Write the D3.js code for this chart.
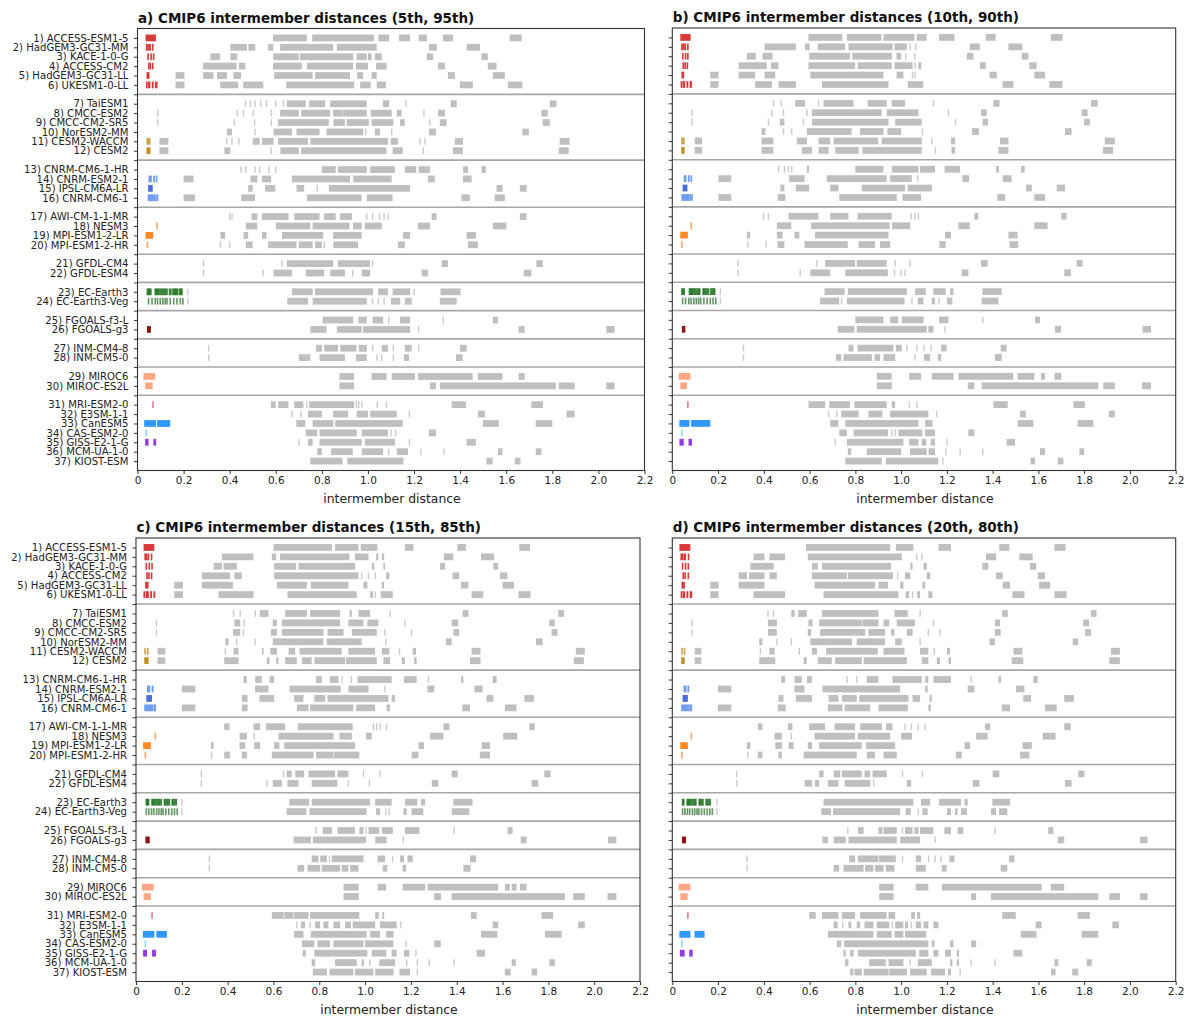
<!DOCTYPE html>
<html>
<head>
<meta charset="utf-8">
<script src="https://cdn.jsdelivr.net/npm/d3@7"></script>
<style>
  body { margin: 0; background: #fff; }
  text { font-family: "DejaVu Sans", sans-serif; fill: #222; }
</style>
</head>
<body>
<svg id="chart" width="1200" height="1019"></svg>
<script>
// ---------------------
// Data
// ---------------------

var models = ["1) ACCESS-ESM1-5","2) HadGEM3-GC31-MM","3) KACE-1-0-G","4) ACCESS-CM2","5) HadGEM3-GC31-LL","6) UKESM1-0-LL",
  "7) TaiESM1","8) CMCC-ESM2","9) CMCC-CM2-SR5","10) NorESM2-MM","11) CESM2-WACCM","12) CESM2",
  "13) CNRM-CM6-1-HR","14) CNRM-ESM2-1","15) IPSL-CM6A-LR","16) CNRM-CM6-1",
  "17) AWI-CM-1-1-MR","18) NESM3","19) MPI-ESM1-2-LR","20) MPI-ESM1-2-HR",
  "21) GFDL-CM4","22) GFDL-ESM4","23) EC-Earth3","24) EC-Earth3-Veg","25) FGOALS-f3-L","26) FGOALS-g3",
  "27) INM-CM4-8","28) INM-CM5-0","29) MIROC6","30) MIROC-ES2L",
  "31) MRI-ESM2-0","32) E3SM-1-1","33) CanESM5","34) CAS-ESM2-0","35) GISS-E2-1-G","36) MCM-UA-1-0","37) KIOST-ESM"];

var groupSizes = [6, 6, 4, 4, 2, 2, 2, 2, 2, 7];

var memberColors = ["#d62728","#d62728","#d62728","#d62728","#d62728","#d62728",
  null,null,null,null,"#c79a35","#b8860b",
  null,"#6495ed","#3a5fd8","#6495ed",
  null,"#f0a060","#ff7f0e","#f0a060",
  null,null,"#0b640b","#3d7a3d",null,"#800000",
  null,null,"#ffa07a","#ffa07a",
  "#db7093",null,"#1e90ff","#86d3e6","#8a2be2",null,null];

var titles = ["a) CMIP6 intermember distances (5th, 95th)",
  "b) CMIP6 intermember distances (10th, 90th)",
  "c) CMIP6 intermember distances (15th, 85th)",
  "d) CMIP6 intermember distances (20th, 80th)"];

var xTicks = [0, 0.2, 0.4, 0.6, 0.8, 1.0, 1.2, 1.4, 1.6, 1.8, 2.0, 2.2];
var xTickLabels = ["0","0.2","0.4","0.6","0.8","1.0","1.2","1.4","1.6","1.8","2.0","2.2"];

// intermember distances (coloured), "a-b" = dense range, "a" = single tick
var memberA = ["0.035-0.08","0.04 0.046 0.05-0.058 0.066","0.046 0.059 0.07","0.049 0.056 0.066","0.039-0.052","0.04 0.045-0.056 0.062-0.07 0.076-0.087",
  "","","","","0.039-0.056","0.039-0.056",
  "","0.048-0.062 0.068-0.076 0.083","0.046-0.066","0.044-0.076 0.08 0.087",
  "","0.085","0.035-0.068","0.043",
  "","","0.043 0.048 0.053 0.058 0.077 0.082 0.087 0.092 0.098 0.104 0.11 0.116 0.122 0.128 0.139 0.145 0.154 0.159 0.164 0.169 0.174 0.183 0.188 0.193",
  "0.048 0.063 0.077 0.087 0.099 0.11 0.12 0.128 0.142 0.157 0.171 0.186 0.197","","0.041-0.058",
  "","","0.026-0.077","0.033-0.066",
  "0.067","","0.029-0.08 0.085-0.142","0.038","0.033-0.048 0.069-0.081","",""];
var memberB = ["0.035-0.08","0.042 0.048 0.052-0.06 0.068","0.046 0.058 0.068","0.048 0.056 0.066","0.04-0.052","0.04 0.045-0.056 0.062-0.07 0.076-0.086",
  "","","","","0.039-0.054","0.039-0.054",
  "","0.05-0.062 0.068-0.076 0.083","0.045-0.066","0.04-0.076 0.08 0.086",
  "","0.083","0.035-0.068","0.042",
  "","","0.042 0.047 0.052 0.075 0.08 0.085 0.09 0.096 0.102 0.108 0.114 0.12 0.135 0.14 0.146 0.152 0.158 0.168 0.174 0.18 0.185",
  "0.045 0.058 0.072 0.082 0.094 0.105 0.115 0.124 0.138 0.152 0.166 0.178 0.19","","0.042-0.057",
  "","","0.028-0.079","0.035-0.064",
  "0.068","","0.031-0.075 0.082-0.166","0.042","0.031-0.05 0.071-0.086","",""];
var memberC = ["0.033-0.08","0.04 0.046 0.05-0.058 0.068","0.045 0.058 0.07","0.048 0.056 0.068","0.04-0.055","0.036 0.042-0.056 0.062-0.07 0.076-0.084",
  "","","","","0.036-0.042 0.048-0.055","0.036-0.055",
  "","0.048-0.062 0.068-0.077","0.045-0.07","0.036-0.075 0.08 0.084",
  "","0.084","0.031-0.065","0.041",
  "","","0.045 0.05 0.055 0.07 0.075 0.08 0.086 0.092 0.098 0.104 0.11 0.124 0.129 0.135 0.14 0.146 0.158 0.164 0.17 0.176",
  "0.045 0.056 0.068 0.078 0.09 0.1 0.11 0.118 0.13 0.143 0.156 0.168 0.18","","0.041-0.06",
  "","","0.026-0.077","0.033-0.065",
  "0.07","","0.03-0.08 0.089-0.135","0.041","0.031-0.048 0.07-0.087","",""];
var memberD = ["0.031-0.079","0.039 0.046 0.05-0.06 0.071","0.045 0.058 0.07","0.048 0.056 0.07","0.04-0.055","0.04 0.045-0.056 0.062-0.07 0.076-0.087",
  "","","","","0.039-0.045 0.05-0.054","0.039-0.054",
  "","0.049-0.062 0.066-0.074","0.045-0.068","0.039-0.076 0.08 0.083",
  "","0.083","0.035-0.068","0.042",
  "","","0.045 0.05 0.065 0.07 0.075 0.08 0.086 0.092 0.098 0.103 0.118 0.123 0.128 0.134 0.148 0.154 0.16 0.166",
  "0.045 0.055 0.066 0.076 0.088 0.098 0.108 0.116 0.128 0.14 0.152 0.164 0.175","","0.042-0.06",
  "","","0.028-0.079","0.035-0.067",
  "0.068","","0.031-0.079 0.097-0.141","0.042","0.033-0.054 0.074-0.089","",""];

// inter-model distances (grey)
var grayA = ["0.588-0.735 0.758-1.026 1.045-1.092 1.135-1.183 1.22-1.256 1.325-1.369 1.615-1.667",
  "0.403-0.475 0.481-0.511 0.567-0.589 0.619-0.849 0.865-1.038 1.265-1.299 1.428-1.486",
  "0.316-0.359 0.403-0.433 0.589-0.7 0.705-0.936 0.951-0.995 1.0-1.016 1.03-1.06 1.255-1.283 1.493-1.52",
  "0.285-0.43 0.44-0.468 0.588-0.713 0.735-0.935 0.948-1.0 1.035-1.081 1.304-1.334 1.52-1.558",
  "0.165-0.204 0.285-0.33 0.345-0.388 0.416-0.449 0.593-0.76 0.77-0.922 0.953-0.979 1.016-1.038 1.347-1.377 1.542-1.594",
  "0.165-0.204 0.359-0.437 0.459-0.546 0.645-0.94 0.966-1.012 1.038-1.078 1.399-1.455 1.607-1.67",
  "0.468 0.49 0.51 0.535 0.56 0.6 0.633 0.648-0.73 0.745-0.814 0.836-0.995 1.065-1.092 1.165 1.359-1.385 1.789-1.818",
  "0.088 0.433 0.46 0.502 0.58 0.619-0.7 0.71-0.836 0.849-0.89 0.892-0.995 1.012-1.103 1.125-1.146 1.243 1.304-1.334 1.753-1.78",
  "0.088 0.42 0.508 0.58 0.61-0.83 0.85-0.9 0.908-1.004 1.016-1.11 1.139-1.16 1.269 1.312-1.341 1.758-1.789",
  "0.388-0.41 0.51 0.59-0.67 0.69-0.79 0.82-0.98 0.99 1.03-1.052 1.103 1.265-1.295 1.67-1.698",
  "0.095-0.134 0.388 0.41 0.44 0.5-0.53 0.54-0.59 0.61-0.74 0.75-1.087 1.099-1.13 1.226 1.247 1.377-1.412 1.832-1.875",
  "0.095-0.134 0.377-0.403 0.58 0.62-0.7 0.71-1.08 1.107-1.151 1.24 1.369-1.412 1.828-1.871",
  "0.449 0.47 0.51 0.53 0.57 0.6 0.8-0.86 0.87-0.995 1.01-1.117 1.16-1.21 1.22-1.269 1.413-1.434 1.493-1.511",
  "0.2-0.243 0.49-0.52 0.54-0.58 0.67-0.922 0.936-1.103 1.26-1.29 1.412-1.45",
  "0.48-0.5 0.554-0.598 0.69-0.723 0.78 0.83-1.183 1.558-1.584 1.659-1.689",
  "0.2-0.25 0.45-0.51 0.735-0.973 0.995-1.107 1.406-1.442 1.55-1.594",
  "0.4 0.41 0.495-0.52 0.54-0.655 0.68-0.79 0.81-0.86 0.879-0.93 0.995 1.02 1.05 1.07 1.087 1.276-1.298 1.659-1.688",
  "0.47-0.52 0.6-0.75 0.76-0.92 0.935-0.973 0.987-1.06 1.217-1.269 1.542-1.601",
  "0.36-0.38 0.46-0.48 0.54-0.56 0.627-0.806 0.849-0.973 1.152-1.183 1.428-1.468",
  "0.36 0.4 0.47-0.5 0.567-0.69 0.7-0.76 0.77-0.8 0.81 0.85-0.957 1.13-1.16 1.434-1.477",
  "0.287 0.627 0.648-0.849 0.87-1.009 1.02 1.32-1.347 1.731-1.758",
  "0.287 0.545 0.59-0.67 0.73-0.81 0.836-0.9 0.934 0.973-1.009 1.233-1.26 1.676-1.709",
  "0.218 0.67-0.76 0.77-1.022 1.044-1.087 1.107-1.183 1.2 1.315-1.402",
  "0.218 0.65-0.74 0.76-0.995 1.02 1.045 1.07 1.1-1.14 1.16-1.19 1.312-1.385",
  "0.804-0.936 0.958-0.995 1.02-1.066 1.09 1.139-1.183 1.327 1.542-1.564",
  "0.75-0.82 0.865-0.973 0.979-1.183 1.22 1.654-1.68 2.034-2.07",
  "0.309 0.775-0.8 0.81-0.87 0.88-0.95 0.96-0.995 1.02 1.06-1.087 1.11 1.16-1.19 1.22 1.399-1.428",
  "0.309 0.7-0.75 0.79-0.9 0.948-0.995 1.04 1.06 1.11 1.156-1.178 1.382-1.411",
  "0.876-0.94 1.016-1.081 1.103-1.204 1.218-1.454 1.477-1.584 1.654-1.68",
  "0.876-0.94 1.269-1.295 1.312-1.815 1.828-1.897 2.034-2.07",
  "0.579-0.6 0.61-0.655 0.68-0.72 0.735 0.745-0.94 0.95 0.96 0.973 1.04 1.08 1.363-1.425 1.709-1.76",
  "0.67 0.71 0.74-0.8 0.849-0.914 0.951-1.0 1.01-1.125 1.18 1.477-1.507 1.862-1.897",
  "0.689-0.728 0.76-0.85 0.858-1.151 1.499-1.568 1.728-1.8",
  "0.73-0.78 0.79-0.951 0.973-1.087 1.1 1.12 1.265-1.295",
  "0.7 0.74-0.76 0.79-0.973 0.987-1.117 1.18 1.428-1.468",
  "0.78-0.8 0.84-0.934 0.973-1.066 1.09 1.125-1.174 1.23 1.33 1.564-1.584 1.728-1.753",
  "0.75-0.89 0.91-1.154 1.514-1.541 1.637-1.662"];

var grayB = ["0.595-0.743 0.763-0.914 0.923-1.058 1.068-1.112 1.166-1.233 1.37-1.413 1.655-1.705",
  "0.403-0.54 0.58-0.6 0.636-0.755 0.77-0.963 0.971-1.025 1.04 1.064 1.3-1.344 1.469-1.53",
  "0.326-0.365 0.394-0.438 0.598-0.777 0.787-0.959 0.98-1.0 1.02 1.06 1.287-1.316 1.527-1.556",
  "0.29-0.413 0.431-0.464 0.595-0.799 0.81-0.959 0.971-1.05 1.061 1.076-1.088 1.345-1.37 1.56-1.592",
  "0.166-0.202 0.29-0.362 0.403-0.45 0.603-0.923 0.98-1.01 1.05 1.061 1.386-1.418 1.582-1.629",
  "0.166-0.202 0.362-0.435 0.464-0.54 0.654-0.945 1.029-1.097 1.443-1.491 1.648-1.705",
  "0.442 0.476 0.537-0.58 0.639 0.661-0.792 0.854-0.937 0.959-1.017 1.141 1.403-1.43 1.83-1.859",
  "0.086 0.435 0.486 0.588 0.61-0.915 0.937-1.076 1.207 1.349-1.374 1.789-1.815",
  "0.086 0.42 0.47-0.49 0.573 0.61-0.945 0.974-1.09 1.238 1.356-1.38 1.8-1.825",
  "0.39-0.407 0.486 0.522 0.588-0.784 0.82-0.923 0.94-1.0 1.093 1.31-1.34 1.716-1.745",
  "0.098-0.13 0.39-0.442 0.544-0.588 0.639-0.69 0.705-0.9 0.915-1.09 1.134 1.218-1.236 1.432-1.469 1.89-1.934",
  "0.098-0.13 0.39-0.442 0.566-0.61 0.639-0.683 0.712-0.814 0.831-1.09 1.15 1.22-1.236 1.425-1.469 1.882-1.926",
  "0.464 0.49 0.508 0.522 0.588-0.598 0.8-0.923 0.959-1.076 1.083-1.148 1.19-1.257 1.415-1.428 1.524-1.54",
  "0.202-0.258 0.511-0.578 0.675-0.937 0.952-1.047 1.073 1.268-1.297 1.444-1.483",
  "0.472-0.49 0.54-0.598 0.69-0.726 0.828-1.017 1.029-1.134 1.546-1.571 1.68-1.716",
  "0.202-0.258 0.461-0.494 0.73-0.981 1.006-1.087 1.42-1.454 1.582-1.629",
  "0.399 0.42 0.508-0.639 0.69-0.77 0.81-0.959 1.044 1.06 1.076 1.32-1.337 1.7-1.723",
  "0.457-0.52 0.607-0.95 0.96-1.04 1.25-1.3 1.582-1.64",
  "0.326-0.34 0.457-0.482 0.534-0.555 0.624-0.945 1.192-1.218 1.469-1.509",
  "0.33 0.41 0.46-0.49 0.578-0.767 0.814-0.886 0.908-0.952 1.167-1.195 1.474-1.512",
  "0.287 0.632 0.668-0.799 0.806-0.937 0.974 1.039 1.349-1.378 1.767-1.793",
  "0.287 0.559 0.603-0.69 0.756-0.942 0.971 1.0 1.017 1.265-1.294 1.713-1.742",
  "0.21 0.665-0.753 0.767-1.025 1.061-1.108 1.141-1.195 1.214-1.229 1.355-1.44",
  "0.21 0.646-0.729 0.74 0.763-1.015 1.047 1.073-1.098 1.134-1.148 1.165 1.2-1.224 1.352-1.425",
  "0.8-0.923 0.952-0.988 1.003-1.098 1.166-1.207 1.357 1.585-1.607",
  "0.723-0.796 0.806-1.112 1.119-1.141 1.192 1.672-1.699 2.055-2.092",
  "0.311 0.77-0.792 0.81-0.966 0.977-1.003 1.025 1.07 1.1 1.13 1.175-1.199 1.435-1.461",
  "0.311 0.715-0.738 0.748-0.872 0.884-0.908 0.923-0.974 1.06 1.1-1.127 1.16-1.175 1.41-1.44",
  "0.894-0.959 1.035-1.087 1.134-1.229 1.25-1.49 1.509-1.582 1.611-1.629 1.67-1.7",
  "0.894-0.959 1.291-1.32 1.352-1.862 1.883-1.934 2.053-2.092",
  "0.595-0.668 0.686-0.777 0.796-0.937 0.959-0.974 1.036 1.07 1.403-1.466 1.753-1.803",
  "0.683 0.719 0.738-0.814 0.857-0.918 0.952-1.119 1.156 1.52-1.545 1.908-1.934",
  "0.69-0.726 0.756-1.076 1.105-1.137 1.509-1.578 1.771-1.84",
  "0.73-0.763 0.792-0.942 0.96 0.975 0.988-1.093 1.105-1.148 1.294-1.32",
  "0.712 0.763-1.01 1.035-1.076 1.09-1.11 1.129-1.148 1.2 1.461-1.498",
  "0.767-0.782 0.85-1.0 1.039-1.112 1.12-1.148 1.196 1.258 1.357 1.607-1.629 1.779-1.8",
  "0.756-0.915 0.933-1.163 1.182 1.566-1.585 1.684-1.709"];

var grayC = ["0.6-0.855 0.869-0.971 0.981-1.054 1.174-1.211 1.403-1.44 1.673-1.72",
  "0.375-0.513 0.593-0.612 0.629-0.932 0.956-1.015 1.048-1.058 1.073-1.083 1.344-1.385 1.506-1.563",
  "0.339-0.375 0.382-0.44 0.603-0.699 0.709-0.956 1.03-1.04 1.08-1.087 1.327-1.349 1.56-1.581",
  "0.288-0.411 0.429-0.462 0.603-0.971 0.985 1.015 1.044 1.092-1.106 1.382-1.411 1.589-1.621",
  "0.167-0.205 0.288-0.423 0.615-0.746 0.763-0.927 0.993-1.01 1.073-1.083 1.419-1.451 1.6-1.65",
  "0.167-0.205 0.36-0.513 0.661-0.964 1.022-1.035 1.045 1.068-1.121 1.465-1.516 1.669-1.722",
  "0.426 0.455 0.52 0.54-0.578 0.651-0.746 0.76-0.891 0.932-0.942 0.971-1.022 1.109 1.426-1.451 1.843-1.868",
  "0.089 0.429-0.455 0.472 0.597-0.615 0.637-0.891 0.927-0.993 1.01-1.058 1.174 1.378-1.407 1.804-1.828",
  "0.089 0.423-0.455 0.469 0.589-0.615 0.637-0.818 0.836-0.906 0.942-1.051 1.087 1.203 1.385-1.411 1.814-1.84",
  "0.39-0.404 0.44 0.52 0.597-0.818 0.833-0.985 1.09 1.353-1.378 1.746-1.775",
  "0.094-0.128 0.39 0.426-0.448 0.55-0.557 0.586-0.615 0.666-0.695 0.714-0.898 0.927-1.044 1.073-1.106 1.15 1.208-1.222 1.465-1.504 1.92-1.959",
  "0.094-0.128 0.385-0.448 0.571-0.583 0.612-0.622 0.651-0.702 0.724-0.767 0.779-0.913 0.917-1.051 1.08-1.109 1.16-1.174 1.214-1.225 1.458-1.504 1.911-1.955",
  "0.469-0.484 0.52-0.549 0.583-0.603 0.786-0.811 0.847-0.884 0.9 0.94 0.967-1.116 1.17-1.225 1.276 1.419-1.429 1.557-1.574",
  "0.2-0.259 0.52-0.578 0.67-0.894 0.927-1.015 1.087 1.272-1.302 1.477-1.513",
  "0.462-0.487 0.539-0.603 0.69-0.731 0.778-0.826 0.836-1.102 1.116-1.131 1.53-1.56 1.695-1.737",
  "0.2-0.259 0.462-0.487 0.702-0.753 0.76-0.949 0.961-1.044 1.094-1.109 1.424-1.458 1.61-1.661",
  "0.385-0.408 0.513-0.542 0.568-0.651 0.706-0.946 1.036 1.05 1.065 1.094 1.342-1.368 1.717-1.741",
  "0.452-0.484 0.516 0.622-0.862 0.888-0.942 1.004-1.029 1.283-1.342 1.603-1.664",
  "0.327-0.339 0.452-0.477 0.516-0.542 0.603-0.626 0.647-0.956 1.233-1.257 1.509-1.545",
  "0.33 0.385-0.411 0.462-0.484 0.593-0.775 0.786-0.862 0.865-0.975 1.203-1.233 1.501-1.545",
  "0.285 0.644 0.658-0.68 0.695-0.734 0.753-0.869 0.879-0.927 0.993 1.065 1.378-1.404 1.782-1.81",
  "0.285 0.571 0.597-0.637 0.661-0.709 0.767-0.879 0.927 1.019 1.291-1.32 1.727-1.756",
  "0.2 0.669-0.756 0.767-1.022 1.044-1.116 1.174-1.228 1.244-1.262 1.385-1.469",
  "0.2 0.658-0.743 0.757-1.007 1.048-1.065 1.09 1.105 1.167-1.182 1.203-1.254 1.378-1.455",
  "0.786 0.815-0.855 0.879-0.956 0.975-0.993 1.005 1.015-1.062 1.073-1.121 1.174-1.237 1.388 1.622-1.644",
  "0.688-0.763 0.772-1.004 1.044-1.094 1.167 1.679-1.705 2.061-2.097",
  "0.32 0.767-0.797 0.804-0.833 0.845 0.855-0.993 1.054-1.087 1.12 1.153-1.17 1.185-1.208 1.458-1.484",
  "0.32 0.705-0.734 0.749-0.804 0.811-0.891 0.898-0.927 0.935-0.971 1.077-1.097 1.164-1.179 1.429-1.461",
  "0.906-0.972 1.055-1.092 1.164-1.262 1.273-1.581 1.61-1.632 1.64-1.661 1.676-1.705",
  "0.906-0.972 1.302-1.331 1.378-1.872 1.908-1.959 2.058-2.097",
  "0.593-0.644 0.647-0.688 0.69-0.753 0.76-0.975 1.044-1.06 1.075-1.083 1.462-1.487 1.77-1.821",
  "0.702 0.72-0.738 0.76 0.782-0.804 0.818-0.84 0.862-0.891 0.913-0.938 0.946-1.044 1.065-1.138 1.156 1.557-1.581 1.93-1.959",
  "0.69-0.731 0.763-1.007 1.022-1.065 1.092-1.124 1.506-1.577 1.785-1.858",
  "0.724-0.778 0.792-0.847 0.862-0.993 1.0-1.124 1.179 1.302-1.33",
  "0.728-0.741 0.778-1.01 1.029-1.092 1.116-1.138 1.17-1.193 1.222 1.487-1.523",
  "0.767-0.782 0.869-0.964 0.985-0.995 1.02 1.062-1.131 1.182 1.228 1.28 1.388 1.64-1.658 1.804-1.828",
  "0.772-0.833 0.845-0.949 0.956-1.036 1.044-1.124 1.15-1.196 1.228 1.61-1.635 1.727-1.751"];

var grayD = ["0.584-0.952 0.977-1.054 1.163-1.218 1.429-1.473 1.67-1.719",
  "0.355-0.403 0.424-0.493 0.592-1.003 1.068 1.09 1.371-1.415 1.517-1.575",
  "0.341-0.443 0.61-0.636 0.654-0.956 1.04-1.05 1.098-1.112 1.355-1.381 1.563-1.59",
  "0.29-0.326 0.336-0.403 0.424-0.457 0.61-0.763 0.767-0.964 0.985 1.017-1.039 1.112-1.127 1.415-1.444 1.597-1.629",
  "0.166-0.202 0.29-0.403 0.622-0.886 0.901-0.942 0.996-1.01 1.093-1.105 1.444-1.476 1.603-1.651",
  "0.166-0.202 0.355-0.493 0.661-0.988 1.02-1.035 1.05 1.07-1.083 1.119-1.137 1.486-1.539 1.67-1.723",
  "0.418 0.443 0.52-0.535 0.55-0.588 0.654-0.901 0.971-1.029 1.083 1.442-1.466 1.83-1.854",
  "0.086 0.418-0.457 0.595-0.613 0.642-0.828 0.831-0.901 0.923-0.948 0.981-1.061 1.141 1.41-1.432 1.796-1.821",
  "0.086 0.418-0.457 0.592-0.607 0.646-0.843 0.857-0.93 0.956-0.971 1.025-1.05 1.119 1.17 1.41-1.435 1.804-1.83",
  "0.38-0.394 0.457 0.52 0.603-0.785 0.806-0.93 0.974-1.003 1.083 1.386-1.41 1.75-1.774",
  "0.098-0.127 0.385 0.424-0.447 0.555 0.61-0.632 0.672-0.898 0.923-1.015 1.083-1.119 1.145 1.2-1.214 1.491-1.53 1.917-1.956",
  "0.098-0.127 0.38-0.45 0.574-0.588 0.636-0.697 0.712-0.828 0.836-1.025 1.09-1.119 1.156-1.17 1.207-1.218 1.483-1.534 1.91-1.956",
  "0.476-0.493 0.534-0.566 0.588-0.61 0.763 0.806 0.85-0.901 0.962-1.09 1.105-1.119 1.141-1.218 1.306 1.425-1.437 1.578-1.597",
  "0.199-0.258 0.534-0.578 0.656-0.996 1.105-1.116 1.291-1.32 1.502-1.539",
  "0.464-0.486 0.54-0.61 0.683-0.726 0.741-0.806 0.817-1.032 1.05-1.083 1.124-1.134 1.534-1.568 1.713-1.755",
  "0.199-0.258 0.461-0.496 0.68-0.744 0.753-0.865 0.901-1.029 1.119-1.13 1.44-1.476 1.629-1.68",
  "0.374-0.394 0.505-0.525 0.598-0.668 0.709-0.799 0.821-0.916 0.934-0.962 1.017 1.045 1.075 1.105 1.367-1.389 1.713-1.741",
  "0.447-0.479 0.52 0.622-0.799 0.811-0.952 1.0-1.047 1.328-1.378 1.619-1.675",
  "0.326-0.341 0.45-0.479 0.508-0.53 0.592-0.61 0.642-0.828 0.847-0.974 1.277-1.301 1.531-1.571",
  "0.33 0.374-0.394 0.464-0.479 0.574-0.806 0.85-0.886 0.923-0.981 1.239-1.265 1.52-1.56",
  "0.282 0.642-0.661 0.705-0.734 0.741-0.828 0.84-0.865 0.875-0.937 1.006 1.093 1.4-1.429 1.774-1.801",
  "0.282 0.578-0.61 0.624-0.642 0.68-0.726 0.753-0.865 0.88 1.025-1.044 1.313-1.342 1.716-1.745",
  "0.195 0.661-1.054 1.087-1.127 1.166-1.262 1.277-1.291 1.399-1.476",
  "0.195 0.651-0.694 0.702-0.996 1.02-1.042 1.075 1.093-1.116 1.2-1.218 1.236-1.247 1.262-1.287 1.393-1.415 1.428-1.464",
  "0.767 0.811-0.836 0.901-0.918 0.923-0.981 1.006 1.017-1.05 1.058-1.076 1.083-1.141 1.189-1.218 1.247-1.272 1.41 1.643-1.665",
  "0.656-0.68 0.705-0.758 0.77-0.981 0.996-1.083 1.148 1.684-1.713 2.044-2.077",
  "0.326 0.773-0.799 0.811-0.901 0.904-0.977 1.006 1.064-1.087 1.12 1.148 1.175 1.211-1.233 1.472-1.495",
  "0.326 0.705-0.729 0.748-0.836 0.843-0.879 0.886-0.923 0.933-0.971 1.064-1.108 1.178-1.199 1.435-1.464",
  "0.904-0.967 1.064-1.119 1.178-1.614 1.654-1.713",
  "0.904-0.967 1.306-1.328 1.393-1.862 1.91-1.956 2.044-2.077",
  "0.598-0.627 0.654-0.726 0.741-0.799 0.821-0.937 0.945-0.974 1.044-1.06 1.07-1.083 1.442-1.501 1.771-1.825",
  "0.705-0.723 0.745 0.77-0.782 0.806-0.821 0.84-0.879 0.894-0.948 0.962 0.974-1.01 1.017-1.03 1.044 1.064-1.087 1.098-1.119 1.141-1.163 1.588-1.614 1.923-1.952",
  "0.68-0.879 0.894-0.959 0.971-1.01 1.017-1.109 1.523-1.592 1.789-1.862",
  "0.719-0.738 0.751-1.119 1.134-1.146 1.214-1.229 1.306-1.328",
  "0.748-0.758 0.777-0.792 0.811-1.064 1.079-1.119 1.141-1.163 1.192-1.218 1.243-1.253 1.491-1.53",
  "0.755-0.77 0.86-0.933 0.945-1.01 1.039 1.073-1.134 1.214-1.224 1.243-1.253 1.306 1.41 1.67-1.687 1.811-1.833",
  "0.777-0.792 0.796-0.828 0.836-0.945 0.948-1.025 1.039-1.112 1.131-1.192 1.204-1.218 1.258 1.655-1.675 1.748-1.774"];

// ---------------------
// Layout
// ---------------------

var panels = [
  { left: 137.5, right: 644.5, top: 28.5, bottom: 470.5, labels: true,  gray: grayA, member: memberA },
  { left: 672.3, right: 1175.7, top: 28, bottom: 470.5, labels: false, gray: grayB, member: memberB },
  { left: 136,   right: 640,   top: 538, bottom: 981.5, labels: true,  gray: grayC, member: memberC },
  { left: 672.3, right: 1175.7, top: 538, bottom: 981.5, labels: false, gray: grayD, member: memberD }
];

function parseRow(s) {
  s = s.trim();
  if (s === "") return [];
  return s.split(/\s+/).map(function(t) {
    var p = t.split("-").map(Number);
    return { a: p[0], b: p.length > 1 ? p[1] : p[0], single: p.length === 1 };
  });
}

// slot of each row (one empty slot between groups) and of each separator
var rowSlot = [], sepSlots = [];
var slot = 0;
groupSizes.forEach(function(n, gi) {
  for (var k = 0; k < n; k++) { rowSlot.push(slot); slot++; }
  if (gi < groupSizes.length - 1) { sepSlots.push(slot); slot++; }
});
var nSlots = slot; // 46

var svg = d3.select("#chart");

panels.forEach(function(p, pi) {
  var x = d3.scaleLinear().domain([0, 2.2]).range([p.left, p.right]);
  var y = d3.scaleLinear().domain([-1, nSlots]).range([p.top, p.bottom]);
  var step = y(1) - y(0);
  var h = step * 0.72;
  var g = svg.append("g");

  // title
  g.append("text")
    .attr("x", p.left + 0.5)
    .attr("y", p.top - 6)
    .attr("font-size", "13.5px")
    .attr("font-weight", "bold")
    .style("fill", "#111")
    .text(titles[pi]);

  // grey inter-model ticks
  var grayMarks = [];
  p.gray.forEach(function(s, i) {
    parseRow(s).forEach(function(d) { d.row = i; grayMarks.push(d); });
  });
  g.append("g").selectAll("rect")
    .data(grayMarks)
    .enter()
    .append("rect")
    .attr("x", function(d) { return d.single ? x(d.a) - 0.7 : x(d.a); })
    .attr("width", function(d) { return d.single ? 1.4 : Math.max(1.4, x(d.b) - x(d.a)); })
    .attr("y", function(d) { return y(rowSlot[d.row]) - h / 2; })
    .attr("height", h)
    .attr("fill", function(d) { return d.single ? "#cbcbcb" : "#bfbfbf"; });

  // coloured intermember ticks
  var memMarks = [];
  p.member.forEach(function(s, i) {
    parseRow(s).forEach(function(d) { d.row = i; memMarks.push(d); });
  });
  g.append("g").selectAll("rect")
    .data(memMarks)
    .enter()
    .append("rect")
    .attr("x", function(d) { return d.single ? x(d.a) - 0.8 : x(d.a); })
    .attr("width", function(d) { return d.single ? 1.6 : Math.max(1.6, x(d.b) - x(d.a)); })
    .attr("y", function(d) { return y(rowSlot[d.row]) - h / 2; })
    .attr("height", h)
    .attr("fill", function(d) { return memberColors[d.row]; })
    .attr("opacity", function(d) { return (d.row === 22 || d.row === 23) ? 0.8 : 0.92; });

  // group separators
  g.append("g").selectAll("line")
    .data(sepSlots)
    .enter()
    .append("line")
    .attr("x1", p.left).attr("x2", p.right)
    .attr("y1", function(d) { return y(d); })
    .attr("y2", function(d) { return y(d); })
    .attr("stroke", "#a6a6a6")
    .attr("stroke-width", 1.6);

  // x axis
  var xAxis = d3.axisBottom(x)
    .tickValues(xTicks)
    .tickFormat(function(d, i) { return xTickLabels[i]; })
    .tickSize(3.5)
    .tickPadding(3)
    .tickSizeOuter(0);
  var gx = g.append("g")
    .attr("transform", "translate(0," + p.bottom + ")")
    .call(xAxis);
  gx.select(".domain").remove();
  gx.selectAll("line").attr("stroke", "#333");
  gx.selectAll("text").attr("font-size", "10.5px").style("fill", "#222").attr("font-family", "DejaVu Sans, sans-serif");

  g.append("text")
    .attr("x", (p.left + p.right) / 2 + 1)
    .attr("y", p.bottom + 32.5)
    .attr("text-anchor", "middle")
    .attr("font-size", "12.4px")
    .text("intermember distance");

  // y axis
  var allSlots = d3.range(nSlots);
  var yAxis = d3.axisLeft(y)
    .tickValues(allSlots)
    .tickFormat(function(s) {
      var i = rowSlot.indexOf(s);
      return (p.labels && i >= 0) ? models[i] : "";
    })
    .tickSize(3.5)
    .tickPadding(5.5)
    .tickSizeOuter(0);
  var gy = g.append("g")
    .attr("transform", "translate(" + p.left + ",0)")
    .call(yAxis);
  gy.select(".domain").remove();
  gy.selectAll("line").attr("stroke", "#333");
  gy.selectAll("text").attr("font-size", "10.1px").style("fill", "#222").attr("font-family", "DejaVu Sans, sans-serif");

  // frame
  g.append("rect")
    .attr("x", p.left).attr("y", p.top)
    .attr("width", p.right - p.left)
    .attr("height", p.bottom - p.top)
    .attr("fill", "none")
    .attr("stroke", "#333")
    .attr("stroke-width", 1.1);
});
</script>
</body>
</html>
